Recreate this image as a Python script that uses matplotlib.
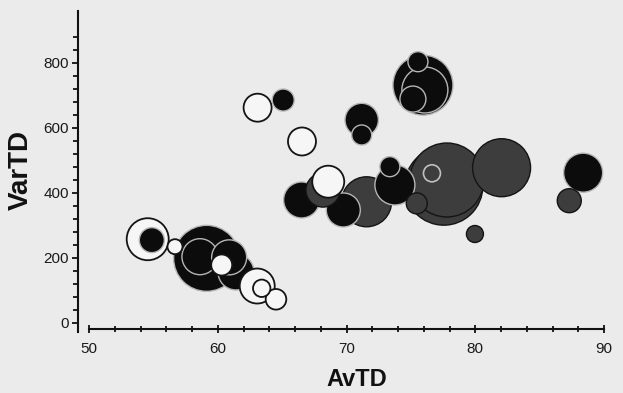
import matplotlib
matplotlib.use("Agg")
import matplotlib.pyplot as plt
import numpy as np
from matplotlib.ticker import MultipleLocator, FixedLocator

# ---- data ----
avtd = [54.54, 54.86, 56.66, 59.12, 58.60, 60.87, 61.40, 60.29, 63.05, 63.40,
        64.51, 63.08, 65.07, 66.53, 71.17, 71.17, 75.93, 75.54, 75.15, 76.08,
        66.50, 68.16, 68.57, 71.55, 69.74, 73.75, 73.36, 75.45, 77.55, 77.79,
        76.63, 82.04, 79.97, 88.38, 87.30]
vartd = [257.8, 255.0, 234.8, 199.0, 204.0, 202.0, 157.0, 178.5, 113.8, 106.8,
         72.9, 662.5, 686.0, 558.5, 624.6, 578.5, 732.0, 804.0, 689.0, 717.0,
         378.5, 409.0, 434.8, 373.0, 347.7, 424.6, 481.0, 368.0, 421.0, 440.0,
         460.6, 477.8, 273.8, 462.5, 376.3]
weight = [21, 12.5, 7.5, 33, 18, 17.5, 18, 10.5, 17.5, 8.7,
          10.3, 14, 11, 14, 16.7, 10, 30, 10, 13, 23,
          18, 17, 16, 25, 17, 20, 10, 10.5, 39, 37,
          8.5, 29, 8.5, 19.5, 12]
group = ["white", "black", "white", "black", "black", "black", "black", "white", "white", "white",
         "white", "white", "black", "white", "black", "black", "black", "black", "black", "black",
         "black", "grey", "white", "grey", "black", "black", "black", "grey", "grey", "grey",
         "greyl", "grey", "grey", "black", "grey"]

xticks = [50, 60, 70, 80, 90]
yticks = [0, 200, 400, 600, 800]

# ---- styling ----
bg = "#ebebeb"
face = {"black": "#0c0c0c", "grey": "#3d3d3d", "greyl": "#3d3d3d", "white": "#f6f6f6"}
edge = {"black": "#b5b5b5", "grey": "#141414", "greyl": "#c0c0c0", "white": "#141414"}
lw = {"black": 1.0, "grey": 1.0, "greyl": 1.2, "white": 1.3}

fig = plt.figure(figsize=(6.23, 3.93), dpi=100, facecolor=bg)
L, R, T, B = 77.7, 604.0, 11.0, 332.0
W, H = 623.0, 393.0
ax = fig.add_axes([L / W, 1 - B / H, (R - L) / W, (B - T) / H])
ax.set_facecolor(bg)
ax.set_xlim(49.1, 90.0)
ax.set_ylim(-27.7, 960)

px_per_pt = 100 / 72.0
order = np.argsort(weight, kind="stable")[::-1]
xs = np.array(avtd)[order]
ys = np.array(vartd)[order]
sz = ((2 * np.array(weight)[order]) / px_per_pt) ** 2
fcs = [face[group[i]] for i in order]
ecs = [edge[group[i]] for i in order]
lws = [lw[group[i]] for i in order]
ax.scatter(xs, ys, s=sz, c=fcs, edgecolors=ecs, linewidths=lws, zorder=3, clip_on=False)

for s in ["top", "right"]:
    ax.spines[s].set_visible(False)
ax.spines["left"].set_linewidth(1.5)
ax.spines["bottom"].set_linewidth(1.5)
ax.spines["left"].set_color("#111111")
ax.spines["bottom"].set_color("#111111")
ax.spines["bottom"].set_position(("data", -20))
ax.spines["bottom"].set_bounds(50, 90)

ax.xaxis.set_major_locator(FixedLocator(xticks))
ax.xaxis.set_minor_locator(MultipleLocator(2))
ax.yaxis.set_major_locator(FixedLocator(yticks))
ax.yaxis.set_minor_locator(FixedLocator(list(range(40, 881, 40))))

ax.tick_params(axis="x", which="both", direction="inout", width=1.3, color="#111111")
ax.tick_params(axis="x", which="major", length=6, labelsize=11, pad=6)
ax.tick_params(axis="x", which="minor", length=5)
ax.tick_params(axis="y", which="both", direction="out", width=1.3, color="#111111")
ax.tick_params(axis="y", which="major", length=4.5, labelsize=11, pad=2)
ax.tick_params(axis="y", which="minor", length=3.5)
for lab in ax.get_xticklabels() + ax.get_yticklabels():
    lab.set_family("Liberation Sans")
    lab.set_color("#1a1a1a")

ax.set_xlabel("AvTD", fontsize=17, fontweight="bold", family="Liberation Sans", color="#111111")
ax.set_ylabel("VarTD", fontsize=20, fontweight="bold", family="Liberation Sans", color="#111111")
ax.xaxis.set_label_coords((357 - L) / (R - L), (B - 368) / (B - T))
ax.yaxis.set_label_coords((34 - L) / (R - L), (B - 170) / (B - T))

fig.savefig("out.png", dpi=100, facecolor=bg)
